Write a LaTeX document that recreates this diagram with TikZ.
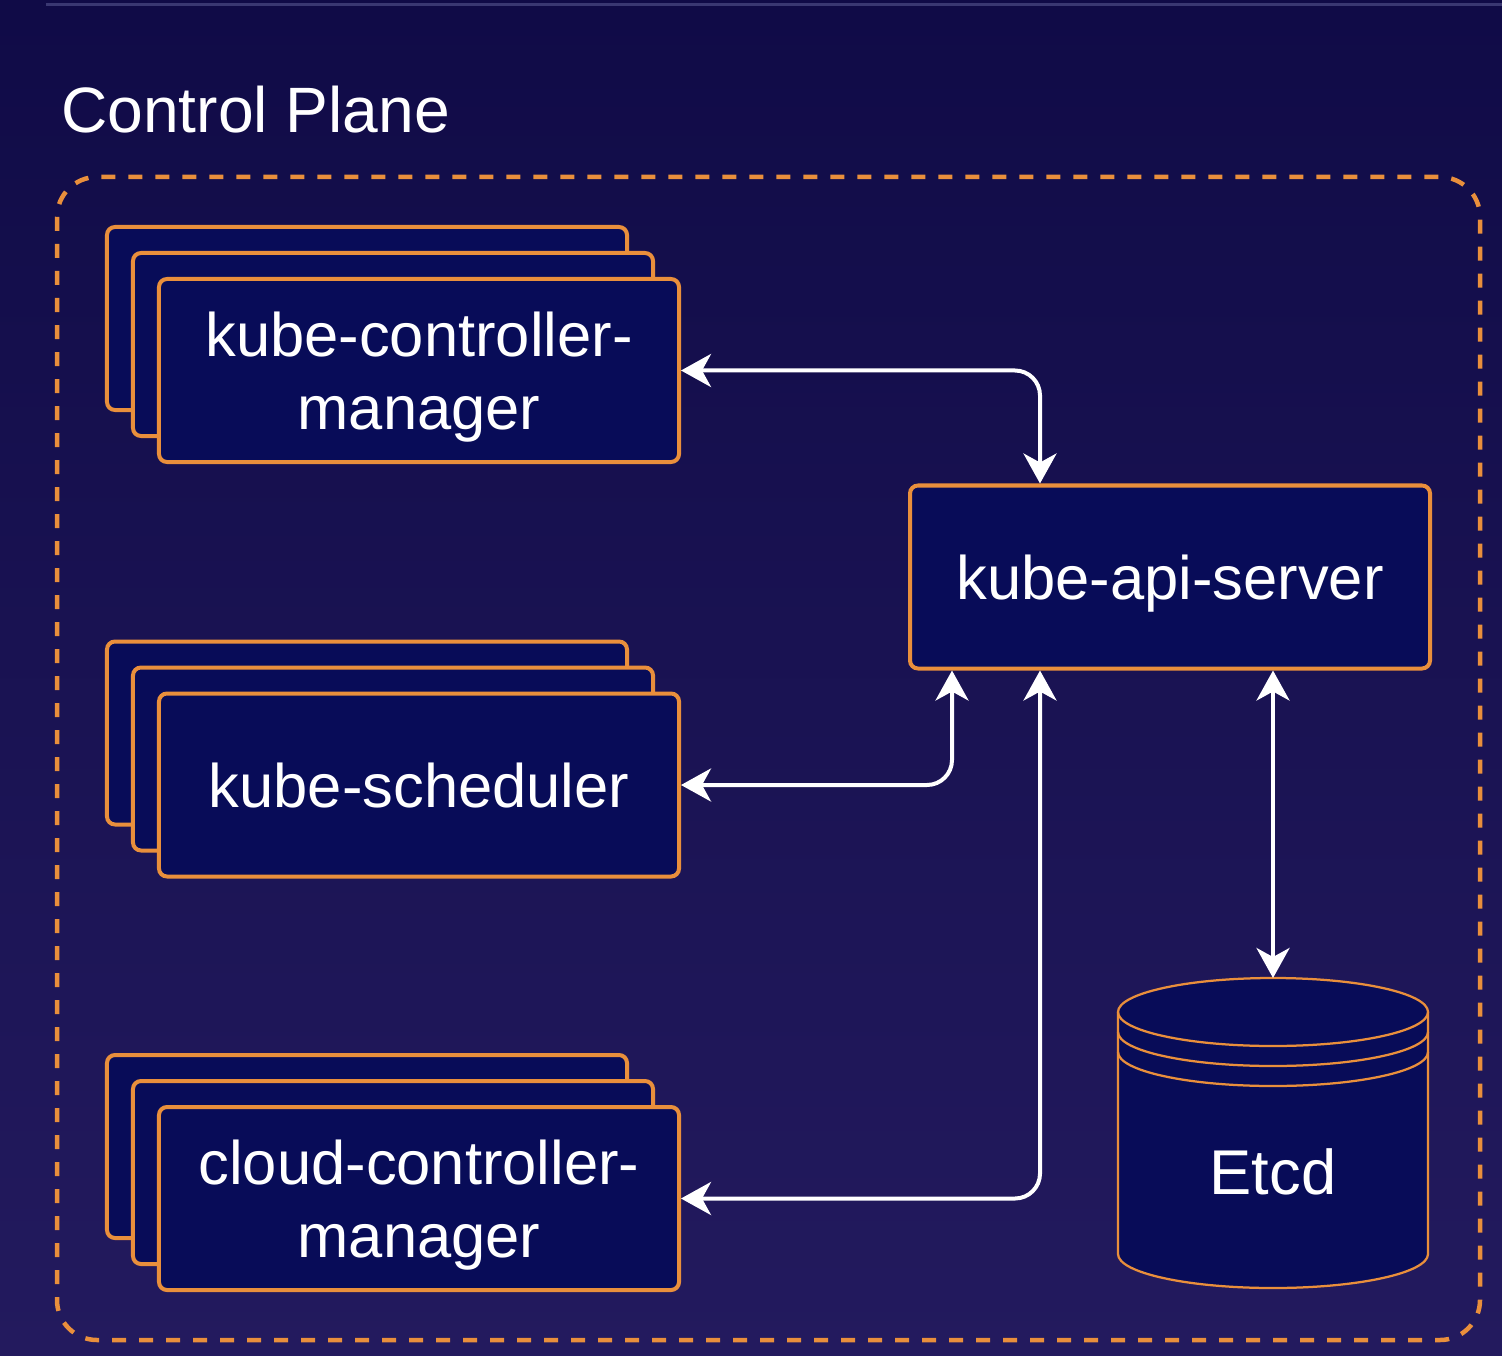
\documentclass[tikz,border=0pt]{standalone}
\usepackage{fontspec}
\setmainfont{Liberation Sans}
\usetikzlibrary{arrows.meta, positioning}

\definecolor{bgtop}{HTML}{100B47}
\definecolor{bgbottom}{HTML}{231A5E}
\definecolor{navy}{HTML}{080C58}
\definecolor{k8sorange}{HTML}{E98F3C}
\definecolor{rule}{HTML}{3A3872}

\begin{document}
\begin{tikzpicture}[
        x=0.2mm, y=-0.2mm,
        panel/.style={rectangle, draw=k8sorange, line width=0.8mm, fill=navy, rounded corners=1.6mm,
            minimum width=104mm, minimum height=36.6mm, inner sep=0pt, align=center, text depth=0pt,
            text=white, font=\fontsize{35}{41.5}\selectfont},
        link/.style={<->, >={Stealth[length=6mm, width=6.6mm, inset=1.8mm]}, draw=white,
            line width=0.8mm, rounded corners=5mm},
        plane/.style={draw=k8sorange, line width=0.9mm, dash pattern=on 2.8mm off 2.6mm, rounded corners=8mm},
        disk/.style={draw=k8sorange, line width=0.45mm}
    ]

    % Background
    \shade[top color=bgtop, bottom color=bgbottom] (0,0) rectangle (1502,1356);
    \useasboundingbox (0,0) rectangle (1502,1356);
    \draw[rule, line width=0.6mm] (46,5) -- (1502,5);

    % Title and control plane border
    \node[anchor=base west, inner sep=0pt, text=white, font=\fontsize{36.5}{40}\selectfont] (title) at (61,133) {Control Plane};
    \draw[plane] (57,177) rectangle (1480,1340);

    % Controller manager stack
    \node[panel] (kcm-back) at (367,318.5) {};
    \node[panel] (kcm-mid) at (393,344.5) {};
    \node[panel] (kcm) at (419,370.5) {kube-controller-\\manager};

    % Scheduler stack
    \node[panel] (sched-back) at (367,733) {};
    \node[panel] (sched-mid) at (393,759) {};
    \node[panel] (sched) at (419,785) {kube-scheduler};

    % Cloud controller manager stack
    \node[panel] (ccm-back) at (367,1146.5) {};
    \node[panel] (ccm-mid) at (393,1172.5) {};
    \node[panel] (ccm) at (419,1198.5) {cloud-controller-\\manager};

    % API server
    \node[panel] (api) at (1170,577) {kube-api-server};

    % Etcd
    \fill[navy] (1118,1012) -- (1118,1254) arc[start angle=180, end angle=360, x radius=31mm, y radius=6.8mm]
        -- (1428,1012) arc[start angle=0, end angle=180, x radius=31mm, y radius=6.8mm] -- cycle;
    \draw[disk] (1118,1012) -- (1118,1254) arc[start angle=180, end angle=360, x radius=31mm, y radius=6.8mm] -- (1428,1012);
    \draw[disk] (1273,1012) ellipse [x radius=31mm, y radius=6.8mm];
    \draw[disk] (1118,1032) arc[start angle=180, end angle=360, x radius=31mm, y radius=6.8mm];
    \draw[disk] (1118,1052) arc[start angle=180, end angle=360, x radius=31mm, y radius=6.8mm];
    \coordinate (etcd-top) at (1273,978);
    \node[text=white, font=\fontsize{36}{40}\selectfont] (etcd) at (1273,1172) {Etcd};

    % Connections
    \draw[link] (kcm.east) -| ([xshift=-26mm]api.north);
    \draw[link] (sched.east) -| ([xshift=-43.6mm]api.south);
    \draw[link] (ccm.east) -| ([xshift=-26mm]api.south);
    \draw[link] (etcd-top |- api.south) -- (etcd-top);

\end{tikzpicture}
\end{document}
